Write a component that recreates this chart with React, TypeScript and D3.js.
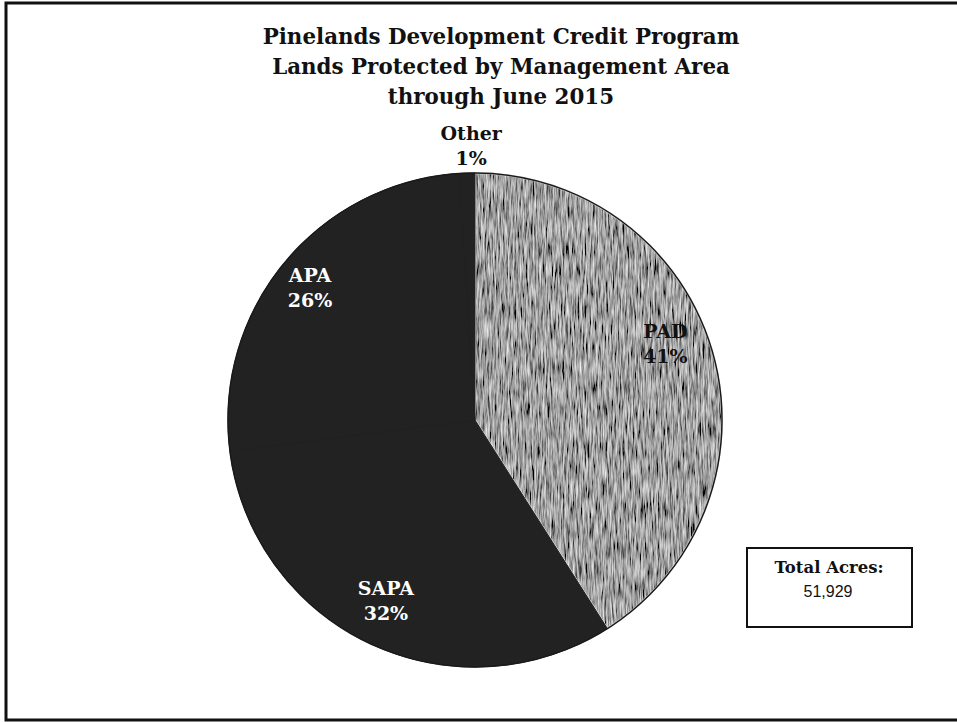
import React from 'react';
import * as d3 from 'd3';

const categories = ['PAD', 'SAPA', 'APA', 'Other'];
const shares = [41, 32, 26, 1];
const titleLines = [
  'Pinelands Development Credit Program',
  'Lands Protected by Management Area',
  'through June 2015',
];
const totalLabel = 'Total Acres:';
const totalValue = '51,929';

const W = 957;
const H = 723;
const cx = 475;
const cy = 420;
const R = 247;
const SERIF = '"DejaVu Serif", serif';

// label placement: radius factor, angle nudge (deg), text colour
const labelPos: Record<string, { r: number; da: number; color: string }> = {
  PAD: { r: 0.83, da: -5.6, color: '#111' },
  SAPA: { r: 0.817, da: 1, color: '#fff' },
  APA: { r: 0.855, da: -1, color: '#fff' },
  Other: { r: 1.11, da: 1, color: '#111' },
};

export default function App() {
  const data = categories.map((c, i) => ({ name: c, value: shares[i] }));
  const pie = d3.pie<{ name: string; value: number }>().value((d) => d.value).sort(null);
  const arcs = pie(data);
  const arc = d3.arc<d3.PieArcDatum<{ name: string; value: number }>>().innerRadius(0).outerRadius(R);

  return (
    <svg width={W} height={H} style={{ position: 'absolute', left: 0, top: 0, background: '#fff' }}>
      <defs>
        <filter id="tex" x="0" y="0" width="100%" height="100%">
          <feTurbulence type="fractalNoise" baseFrequency="0.6 0.05" numOctaves="3" seed="7" result="n" />
          <feColorMatrix
            in="n"
            type="matrix"
            values="1.3 0 0 0 -0.3  1.3 0 0 0 -0.3  1.3 0 0 0 -0.3  0 0 0 0 1"
            result="g"
          />
          <feComposite in="g" in2="SourceGraphic" operator="in" />
        </filter>
      </defs>

      {/* frame */}
      <path d={`M${W},3 H6 V720 H${W}`} fill="none" stroke="#111" strokeWidth={3} />

      {titleLines.map((t, i) => (
        <text
          key={i}
          x={501}
          y={44 + i * 30}
          textAnchor="middle"
          fontFamily={SERIF}
          fontWeight="bold"
          fontSize={21.4}
          fill="#111"
        >
          {t}
        </text>
      ))}

      <g transform={`translate(${cx},${cy})`}>
        <circle r={R} fill="#222" />
        {arcs.map((a) =>
          a.data.name === 'PAD' ? (
            <g key={a.data.name}>
              <path d={arc(a) || ''} fill="#666" />
              <path d={arc(a) || ''} fill="#777" filter="url(#tex)" />
              <path d={arc(a) || ''} fill="none" stroke="#e4e4e4" strokeWidth={2} />
            </g>
          ) : (
            <path key={a.data.name} d={arc(a) || ''} fill="#222" stroke="#222" strokeWidth={1} />
          )
        )}
        <circle r={R} fill="none" stroke="#1a1a1a" strokeWidth={1.5} />

        {arcs.map((a) => {
          const p = labelPos[a.data.name];
          const mid = (a.startAngle + a.endAngle) / 2 + (p.da * Math.PI) / 180;
          const x = Math.sin(mid) * R * p.r;
          const y = -Math.cos(mid) * R * p.r;
          return (
            <g key={a.data.name} fontFamily={SERIF} fontWeight="bold" fontSize={19} fill={p.color} textAnchor="middle">
              <text x={x} y={y - 6}>{a.data.name}</text>
              <text x={x} y={y + 19}>{`${a.data.value}%`}</text>
            </g>
          );
        })}
      </g>

      {/* total box */}
      <rect x={747} y={548} width={165} height={79} fill="#fff" stroke="#111" strokeWidth={2} />
      <text x={829} y={573} textAnchor="middle" fontFamily={SERIF} fontWeight="bold" fontSize={16.5} fill="#111">
        {totalLabel}
      </text>
      <text x={828} y={597} textAnchor="middle" fontFamily='"Liberation Sans", Arial, sans-serif' fontSize={16} fill="#111">
        {totalValue}
      </text>
    </svg>
  );
}
